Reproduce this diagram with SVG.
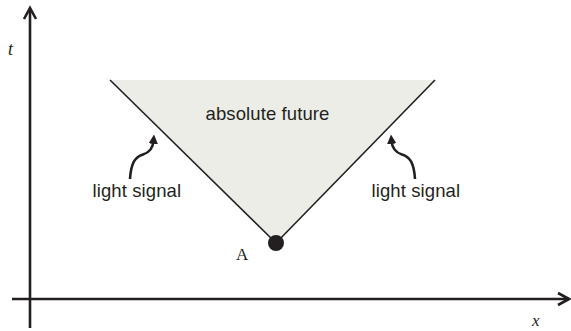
<svg xmlns="http://www.w3.org/2000/svg" width="571" height="331" viewBox="0 0 571 331">
<style>
.axis{stroke:#231f20;stroke-width:2.6;fill:none}
.head{stroke:#231f20;stroke-width:2.6;fill:none;stroke-linejoin:miter}
.cone{stroke:#231f20;stroke-width:1.6;fill:none}
.lbl{font-family:"Liberation Sans",Arial,sans-serif;font-size:18.5px;fill:#231f20;letter-spacing:0.1px}
.ser{font-family:"Liberation Serif","Times New Roman",serif;fill:#231f20}
.sig{stroke:#231f20;stroke-width:2.6;fill:none;marker-end:url(#ah)}
</style>
<defs>
<marker id="ah" viewBox="0 0 10 10" refX="3" refY="5" markerWidth="3.6" markerHeight="3.6" orient="auto" markerUnits="strokeWidth">
<path d="M0,0 L10,5 L0,10 z" fill="#231f20"/>
</marker>
</defs>
<g id="cone">
<polygon points="110,80 435,80 276,243" fill="#edede7"/>
<line class="cone" x1="110" y1="80" x2="276" y2="243"/>
<line class="cone" x1="435" y1="80" x2="276" y2="243"/>
</g>
<g id="axes">
<line class="axis" x1="30" y1="328" x2="30" y2="9"/>
<polyline class="head" points="24,19 30,8 36,19"/>
<line class="axis" x1="12" y1="299" x2="567" y2="299"/>
<polyline class="head" points="558,293 569,299 558,305"/>
<text class="ser" x="8" y="55" font-size="18" font-style="italic">t</text>
<text class="ser" x="532" y="326" font-size="17" font-style="italic">x</text>
</g>
<g id="pointA">
<circle cx="276" cy="243" r="8" fill="#231f20"/>
<text class="ser" x="236" y="260" font-size="17">A</text>
</g>
<g id="future">
<text class="lbl" x="267.5" y="120" text-anchor="middle">absolute future</text>
</g>
<g id="connectors">
<path class="sig" d="M130,179 C131,163 135,157 143,154.5 C151,152 153,147 153.5,141"/>
<path class="sig" d="M415,179 C414,163 410,157 402,154.5 C394,152 392,147 391.5,141"/>
</g>
<g id="signal-left">
<text class="lbl" x="92.5" y="197">light signal</text>
</g>
<g id="signal-right">
<text class="lbl" x="371.5" y="197">light signal</text>
</g>
</svg>
